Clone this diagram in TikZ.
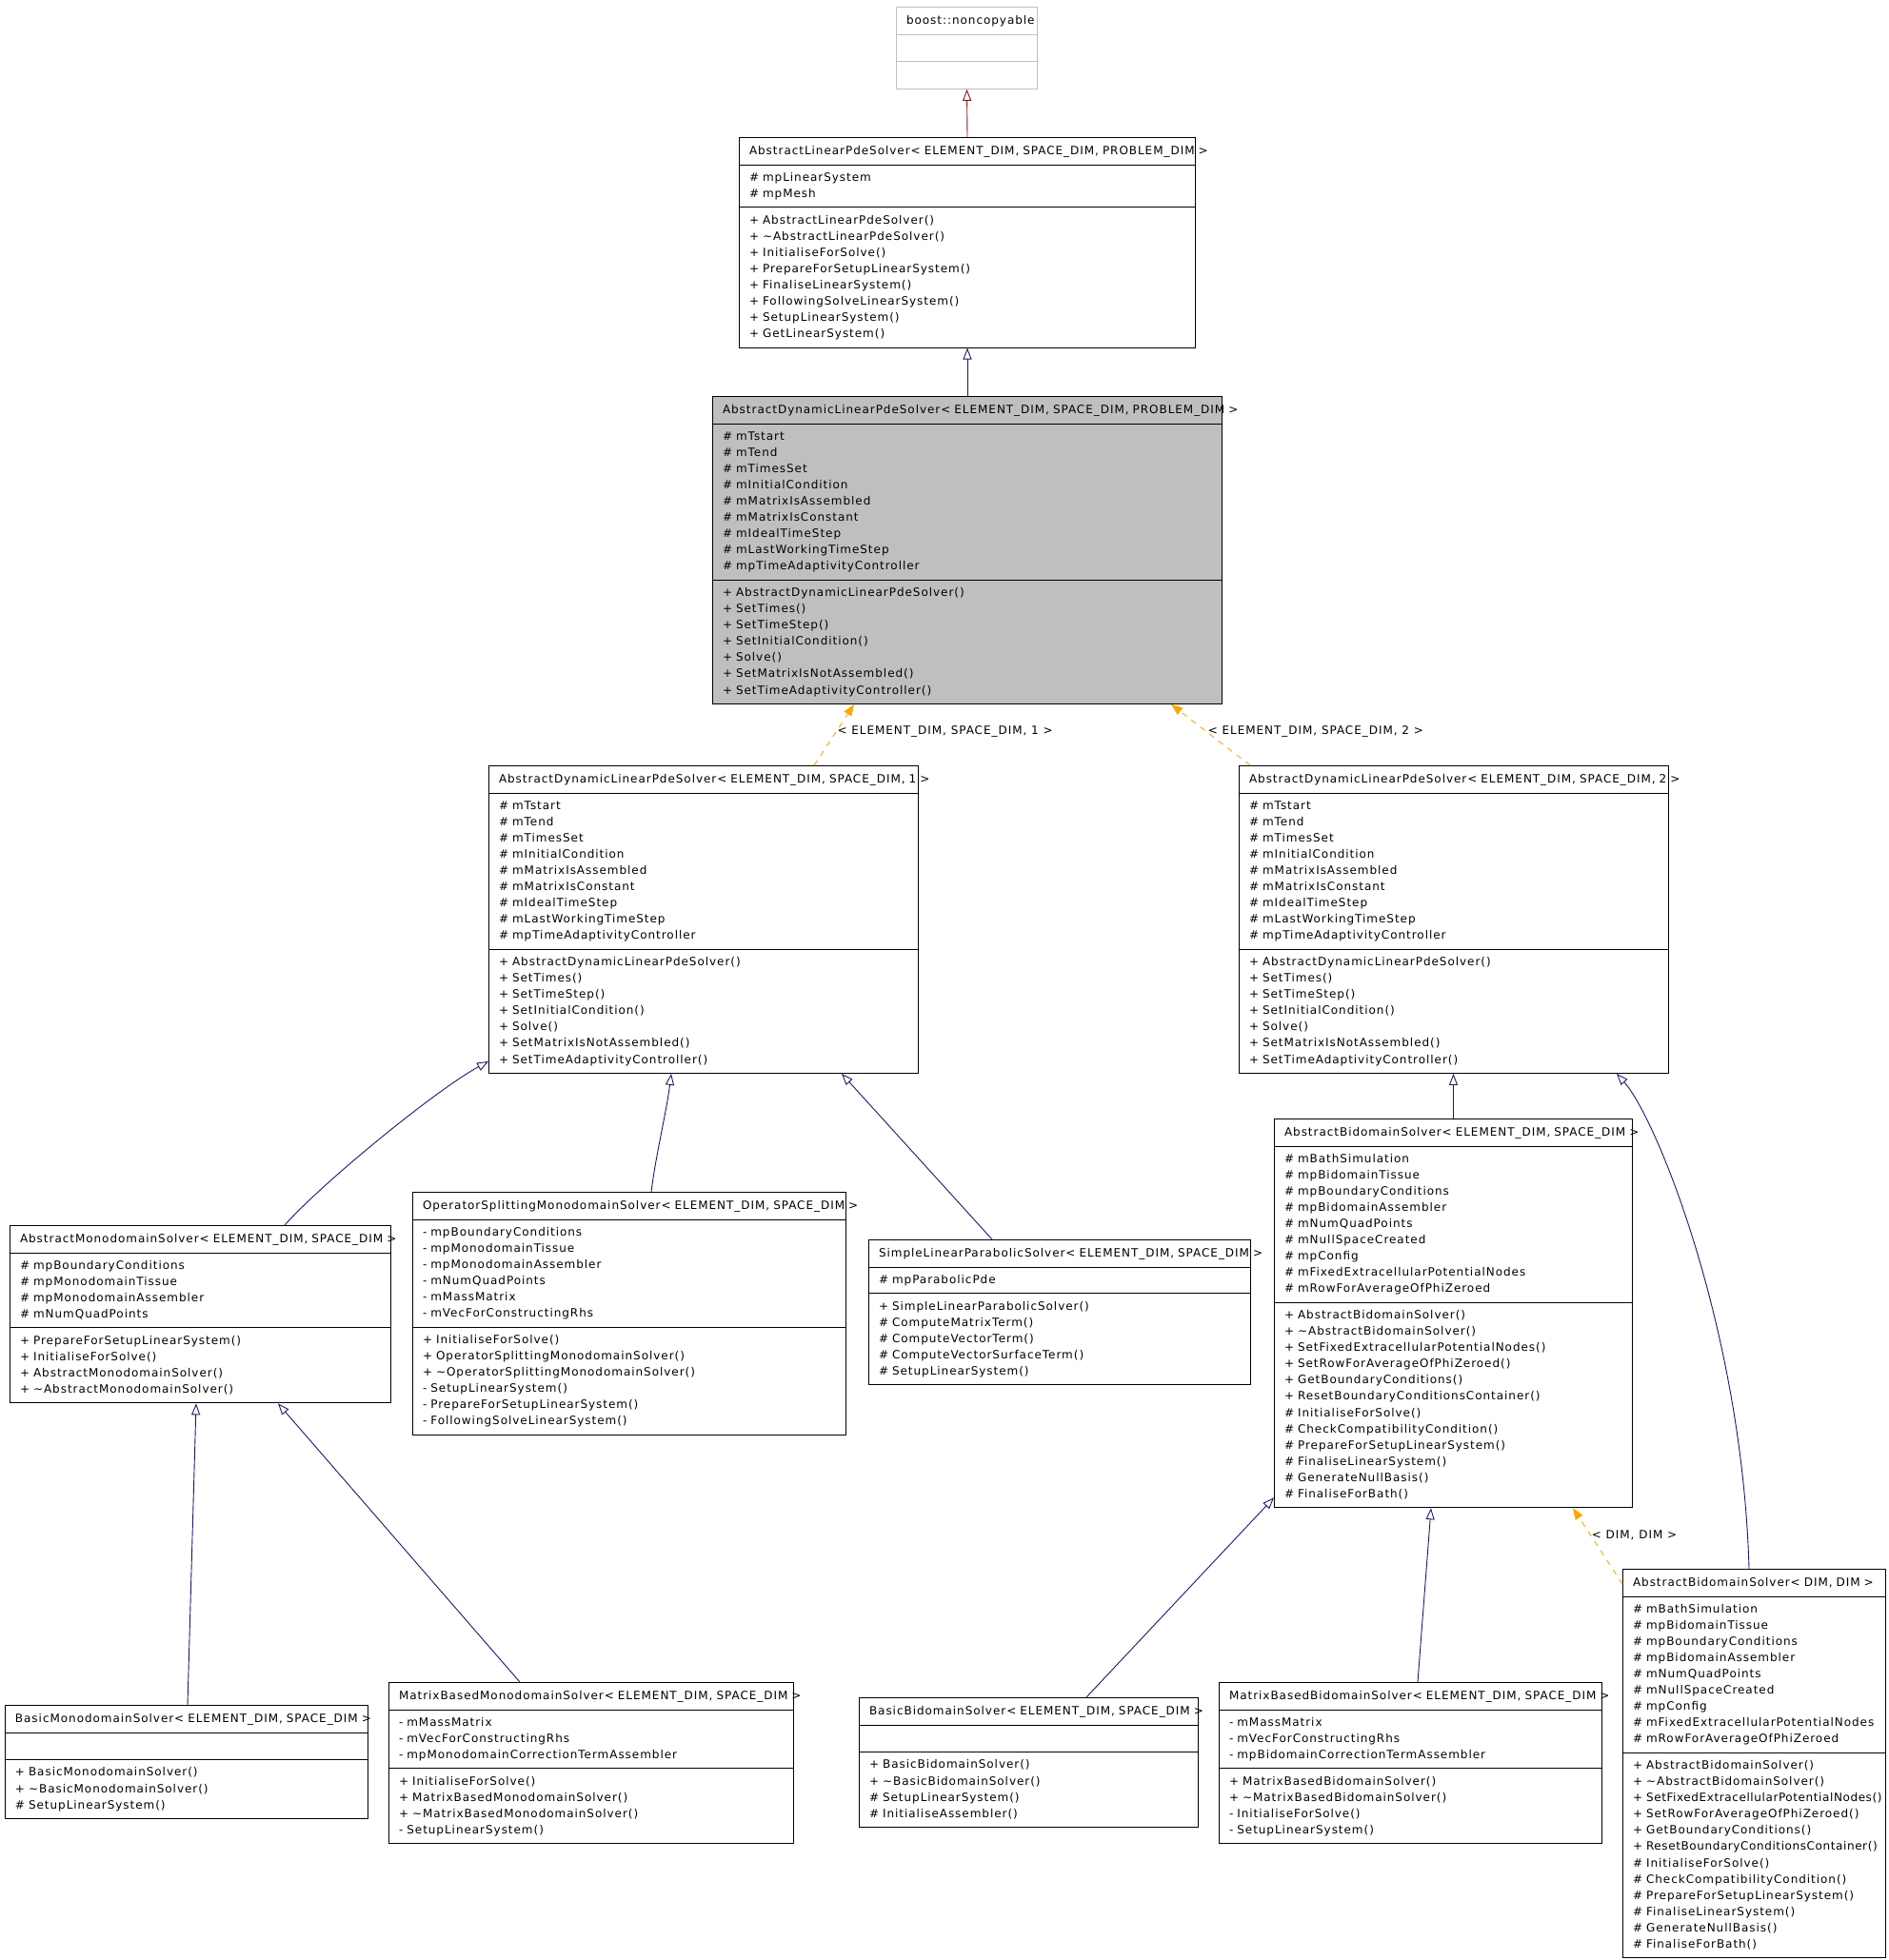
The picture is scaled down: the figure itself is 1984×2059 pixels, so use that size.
\documentclass[tikz,border=0pt]{standalone}
\usepackage{fontspec}
\newfontfamily\umlfont{DejaVu Sans}[LetterSpace=8]
\usetikzlibrary{arrows.meta,calc,shapes.multipart}

\definecolor{inhblue}{HTML}{191970}
\definecolor{privred}{HTML}{8B1A1A}
\definecolor{tmplorange}{HTML}{FFA500}
\definecolor{boxgrey}{HTML}{BFBFBF}

\hyphenpenalty=10000
\exhyphenpenalty=10000
\newcommand{\hdstrut}{\rule[-5.4pt]{0pt}{18pt}}
\newcommand{\clshead}[1]{\centering\mbox{#1}\hdstrut}
\newcommand{\longop}[1]{\mbox{#1}}
\newcommand{\dynattrs}{\strut\#~mTstart\\\#~mTend\\\#~mTimesSet\\\#~mInitialCondition\\\#~mMatrixIsAssembled\\\#~mMatrixIsConstant\\\#~mIdealTimeStep\\\#~mLastWorkingTimeStep\\\#~mpTimeAdaptivityController\strut}
\newcommand{\dynops}{\strut+~AbstractDynamicLinearPdeSolver()\\+~SetTimes()\\+~SetTimeStep()\\+~SetInitialCondition()\\+~Solve()\\+~SetMatrixIsNotAssembled()\\+~SetTimeAdaptivityController()\strut}
\newcommand{\bidattrs}{\strut\#~mBathSimulation\\\#~mpBidomainTissue\\\#~mpBoundaryConditions\\\#~mpBidomainAssembler\\\#~mNumQuadPoints\\\#~mNullSpaceCreated\\\#~mpConfig\\\#~mFixedExtracellularPotentialNodes\\\#~mRowForAverageOfPhiZeroed\strut}
\newcommand{\bidops}{\strut+~AbstractBidomainSolver()\\+~\textasciitilde AbstractBidomainSolver()\\\longop{+~SetFixedExtracellularPotentialNodes()}\\+~SetRowForAverageOfPhiZeroed()\\+~GetBoundaryConditions()\\\longop{+~ResetBoundaryConditionsContainer()}\\\#~InitialiseForSolve()\\\#~CheckCompatibilityCondition()\\\#~PrepareForSetupLinearSystem()\\\#~FinaliseLinearSystem()\\\#~GenerateNullBasis()\\\#~FinaliseForBath()\strut}

\begin{document}
\begin{tikzpicture}[x=1pt, y=-1pt, every node/.style={font=\umlfont\fontsize{12pt}{17.07pt}\selectfont},
  cls/.style={draw=black, fill=white, line width=1pt, rectangle split, rectangle split parts=3, anchor=north west, inner xsep=10.5pt, inner ysep=4.8pt, align=left, text width=#1},
  ext/.style={cls=#1, draw=boxgrey},
  cur/.style={cls=#1, fill=boxgrey},
  inh/.style={draw=inhblue, line width=0.9pt, -{Triangle[open, length=12pt, width=9pt]}},
  priv/.style={inh, draw=privred},
  tmpl/.style={draw=tmplorange, line width=0.9pt, dash pattern=on 6pt off 6pt, -{Triangle[length=12pt, width=9pt]}},
  lbl/.style={inner sep=1pt, anchor=west}]
\useasboundingbox (0,0) rectangle (1984,2059);

% base classes
\node[ext=127pt] (nc) at (941,7) {\clshead{boost::noncopyable}\nodepart{second}\hdstrut\nodepart{third}\hdstrut};
\node[cls=458pt] (alps) at (776,144) {\clshead{AbstractLinearPdeSolver< ELEMENT\_DIM, SPACE\_DIM, PROBLEM\_DIM >}
  \nodepart{second}\strut\#~mpLinearSystem\\\#~mpMesh\strut
  \nodepart{third}\strut+~AbstractLinearPdeSolver()\\+~\textasciitilde AbstractLinearPdeSolver()\\+~InitialiseForSolve()\\+~PrepareForSetupLinearSystem()\\+~FinaliseLinearSystem()\\+~FollowingSolveLinearSystem()\\+~SetupLinearSystem()\\+~GetLinearSystem()\strut};
\node[cur=514pt] (adlps) at (748,416) {\clshead{AbstractDynamicLinearPdeSolver< ELEMENT\_DIM, SPACE\_DIM, PROBLEM\_DIM >}\nodepart{second}\dynattrs\nodepart{third}\dynops};

% instantiations
\node[cls=430pt] (adlps1) at (513,804) {\clshead{AbstractDynamicLinearPdeSolver< ELEMENT\_DIM, SPACE\_DIM, 1 >}\nodepart{second}\dynattrs\nodepart{third}\dynops};
\node[cls=430pt] (adlps2) at (1301,804) {\clshead{AbstractDynamicLinearPdeSolver< ELEMENT\_DIM, SPACE\_DIM, 2 >}\nodepart{second}\dynattrs\nodepart{third}\dynops};

% monodomain side
\node[cls=379pt] (ams) at (10,1287) {\clshead{AbstractMonodomainSolver< ELEMENT\_DIM, SPACE\_DIM >}
  \nodepart{second}\strut\#~mpBoundaryConditions\\\#~mpMonodomainTissue\\\#~mpMonodomainAssembler\\\#~mNumQuadPoints\strut
  \nodepart{third}\strut+~PrepareForSetupLinearSystem()\\+~InitialiseForSolve()\\+~AbstractMonodomainSolver()\\+~\textasciitilde AbstractMonodomainSolver()\strut};
\node[cls=434pt] (osms) at (433,1252) {\clshead{OperatorSplittingMonodomainSolver< ELEMENT\_DIM, SPACE\_DIM >}
  \nodepart{second}\strut-~mpBoundaryConditions\\-~mpMonodomainTissue\\-~mpMonodomainAssembler\\-~mNumQuadPoints\\-~mMassMatrix\\-~mVecForConstructingRhs\strut
  \nodepart{third}\strut+~InitialiseForSolve()\\+~OperatorSplittingMonodomainSolver()\\+~\textasciitilde OperatorSplittingMonodomainSolver()\\-~SetupLinearSystem()\\-~PrepareForSetupLinearSystem()\\-~FollowingSolveLinearSystem()\strut};
\node[cls=380pt] (slps) at (912,1302) {\clshead{SimpleLinearParabolicSolver< ELEMENT\_DIM, SPACE\_DIM >}
  \nodepart{second}\strut\#~mpParabolicPde\strut
  \nodepart{third}\strut+~SimpleLinearParabolicSolver()\\\#~ComputeMatrixTerm()\\\#~ComputeVectorTerm()\\\#~ComputeVectorSurfaceTerm()\\\#~SetupLinearSystem()\strut};
\node[cls=360pt] (bms) at (5,1791) {\clshead{BasicMonodomainSolver< ELEMENT\_DIM, SPACE\_DIM >}
  \nodepart{second}\hdstrut
  \nodepart{third}\strut+~BasicMonodomainSolver()\\+~\textasciitilde BasicMonodomainSolver()\\\#~SetupLinearSystem()\strut};
\node[cls=404pt] (mbms) at (408,1767) {\clshead{MatrixBasedMonodomainSolver< ELEMENT\_DIM, SPACE\_DIM >}
  \nodepart{second}\strut-~mMassMatrix\\-~mVecForConstructingRhs\\-~mpMonodomainCorrectionTermAssembler\strut
  \nodepart{third}\strut+~InitialiseForSolve()\\+~MatrixBasedMonodomainSolver()\\+~\textasciitilde MatrixBasedMonodomainSolver()\\-~SetupLinearSystem()\strut};

% bidomain side
\node[cls=355pt] (abs) at (1338,1175) {\clshead{AbstractBidomainSolver< ELEMENT\_DIM, SPACE\_DIM >}\nodepart{second}\bidattrs\nodepart{third}\bidops};
\node[cls=255pt] (absdd) at (1704,1648) {\clshead{AbstractBidomainSolver< DIM, DIM >}\nodepart{second}\bidattrs
  \nodepart{third}\renewcommand{\longop}[1]{\mbox{\addfontfeature{LetterSpace=5}#1}}\bidops};
\node[cls=335pt] (bbs) at (902,1783) {\clshead{BasicBidomainSolver< ELEMENT\_DIM, SPACE\_DIM >}
  \nodepart{second}\hdstrut
  \nodepart{third}\strut+~BasicBidomainSolver()\\+~\textasciitilde BasicBidomainSolver()\\\#~SetupLinearSystem()\\\#~InitialiseAssembler()\strut};
\node[cls=381pt] (mbbs) at (1280,1767) {\clshead{MatrixBasedBidomainSolver< ELEMENT\_DIM, SPACE\_DIM >}
  \nodepart{second}\strut-~mMassMatrix\\-~mVecForConstructingRhs\\-~mpBidomainCorrectionTermAssembler\strut
  \nodepart{third}\strut+~MatrixBasedBidomainSolver()\\+~\textasciitilde MatrixBasedBidomainSolver()\\-~InitialiseForSolve()\\-~SetupLinearSystem()\strut};

% inheritance
\draw[priv] (alps.north) -- (nc.south);
\draw[inh] (adlps.north) -- (alps.south);
\draw[tmpl] ($(adlps1.north west)+(342,0)$) -- node[lbl, pos=0.55] {< ELEMENT\_DIM, SPACE\_DIM, 1 >} ($(adlps.south west)+(149,0)$);
\draw[tmpl] ($(adlps2.north west)+(12,0)$) -- node[lbl, pos=0.55] {< ELEMENT\_DIM, SPACE\_DIM, 2 >} ($(adlps.south west)+(482,0)$);
\draw[inh] ($(ams.north west)+(289,0)$) .. controls +(40,-45) and +(-55,30) .. ($(adlps1.south west)+(0,-13)$);
\draw[inh] ($(osms.north west)+(251,0)$) .. controls +(5,-40) and +(-5,40) .. ($(adlps1.south west)+(192,0)$);
\draw[inh] ($(slps.north west)+(130,0)$) -- ($(adlps1.south west)+(371,0)$);
\draw[inh] (abs.north) -- (abs.north |- adlps2.south);
\draw[inh] ($(absdd.north west)+(133,0)$) .. controls +(-7,-250) and +(42,47) .. ($(adlps2.south west)+(397,0)$);
\draw[inh] ($(bms.north west)+(192,0)$) -- ($(ams.south west)+(196,0)$);
\draw[inh] ($(mbms.north west)+(138,0)$) -- ($(ams.south west)+(282,0)$);
\draw[inh] ($(bbs.north west)+(239,0)$) -- ($(abs.south west)+(0,-11)$);
\draw[inh] ($(mbbs.north west)+(209,0)$) -- ($(abs.south west)+(165,0)$);
\draw[tmpl] ($(absdd.north west)+(0,16)$) -- node[lbl, pos=0.646] {< DIM, DIM >} ($(abs.south west)+(314,0)$);
\end{tikzpicture}
\end{document}
